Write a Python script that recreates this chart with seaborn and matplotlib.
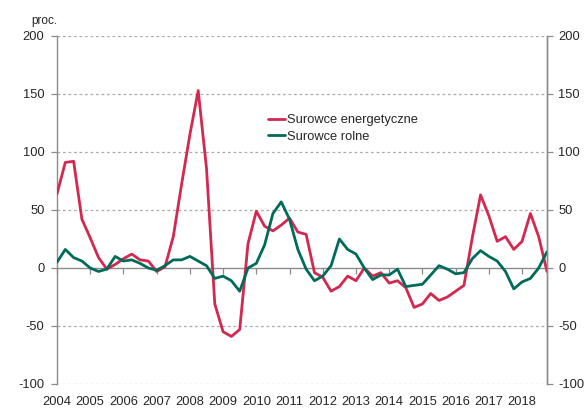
import matplotlib
matplotlib.use("Agg")
import matplotlib.pyplot as plt
import seaborn as sns
import pandas as pd
import numpy as np

years = [str(y) for y in range(2004, 2019)]
quarters = [f"{y}Q{q}" for y in range(2004, 2019) for q in range(1, 5)]

energy = [64, 91, 92, 42, 26, 9, -1, 3, 8, 12, 7, 6, -3, 1, 27,
          72, 115, 153, 86, -31, -55, -59, -53, 21, 49, 36, 32, 37, 43, 31,
          29, -4, -8, -20, -16, -7, -11, 0, -7, -4, -13, -11, -17, -34, -31,
          -22, -28, -25, -20, -15, 26, 63, 45, 23, 27, 16, 23, 47, 27, -3]
agri = [5, 16, 9, 6, 0, -3, -1, 10, 6, 7, 4, 0, -2, 2, 7,
        7, 10, 6, 2, -9, -7, -11, -20, 0, 4, 20, 47, 57, 42, 16,
        -1, -11, -7, 2, 25, 16, 12, 0, -10, -6, -6, -1, -16, -15, -14,
        -6, 2, -1, -5, -4, 8, 15, 10, 6, -3, -18, -12, -9, 0, 14]

series_names = ["Surowce energetyczne", "Surowce rolne"]
colors = ["#D3284F", "#006B58"]
yticks = [-100, -50, 0, 50, 100, 150, 200]

sns.set_style("white")
plt.rcParams["font.family"] = ["Liberation Sans", "DejaVu Sans"]
plt.rcParams["font.size"] = 9.3

df = pd.DataFrame({
    "idx": list(range(len(quarters))) * 2,
    "val": energy + agri,
    "series": [series_names[0]] * len(energy) + [series_names[1]] * len(agri),
})

W, H = 584, 409
fig = plt.figure(figsize=(W / 100, H / 100), dpi=100)
L, R, T, B = 57, 547, 36, 384
ax = fig.add_axes([L / W, (H - B) / H, (R - L) / W, (B - T) / H])

gray = "#8C8C8C"
for v in yticks:
    if v != 0:
        ax.axhline(v, color="#ABABAB", lw=0.9, ls=(0, (2.2, 2.2)), zorder=0)

sns.lineplot(data=df, x="idx", y="val", hue="series", palette=colors,
             linewidth=2.0, ax=ax, legend=True, zorder=3)

ax.set_xlim(0, len(quarters) - 1)
ax.set_ylim(-100, 200)
ax.set_xlabel("")
ax.set_ylabel("")

ax.set_yticks(yticks)
ax.set_yticklabels([str(v) for v in yticks])
ax.tick_params(axis="y", direction="out", length=4, width=0.9, color=gray,
               pad=5, labelsize=9.3, left=True)
ax.set_xticks(list(range(0, len(quarters), 4)))
ax.set_xticklabels(years)
ax.tick_params(axis="x", length=0, pad=8.5, labelsize=9.3)

for s in ["top", "bottom"]:
    ax.spines[s].set_visible(False)
for s in ["left", "right"]:
    ax.spines[s].set_color(gray)
    ax.spines[s].set_linewidth(1.0)

sec = ax.secondary_xaxis(1 / 3)
sec.set_xticks(list(range(0, len(quarters), 4)))
sec.set_xticklabels([])
sec.tick_params(direction="out", length=4, width=0.9, color=gray)
sec.spines["bottom"].set_color(gray)
sec.spines["bottom"].set_linewidth(1.0)

ax2 = ax.twinx()
ax2.set_ylim(-100, 200)
ax2.set_yticks(yticks)
ax2.set_yticklabels([str(v) for v in yticks])
ax2.tick_params(axis="y", direction="out", length=4, width=0.9, color=gray,
                pad=4, labelsize=9.3, right=True)
for s in ["top", "bottom", "left"]:
    ax2.spines[s].set_visible(False)
ax2.spines["right"].set_color(gray)
ax2.spines["right"].set_linewidth(1.0)

handles, labels = ax.get_legend_handles_labels()
ax.legend(handles, labels, loc="upper left", frameon=False,
          bbox_to_anchor=(268 / W, (H - 114) / H), bbox_transform=fig.transFigure,
          handlelength=1.3, handletextpad=0.2, borderpad=0, labelspacing=0.38,
          fontsize=9.3, borderaxespad=0)

fig.text(31 / W, (H - 21) / H, "proc.", fontsize=8.5, ha="left", va="center")

fig.savefig("out.png", dpi=100)
